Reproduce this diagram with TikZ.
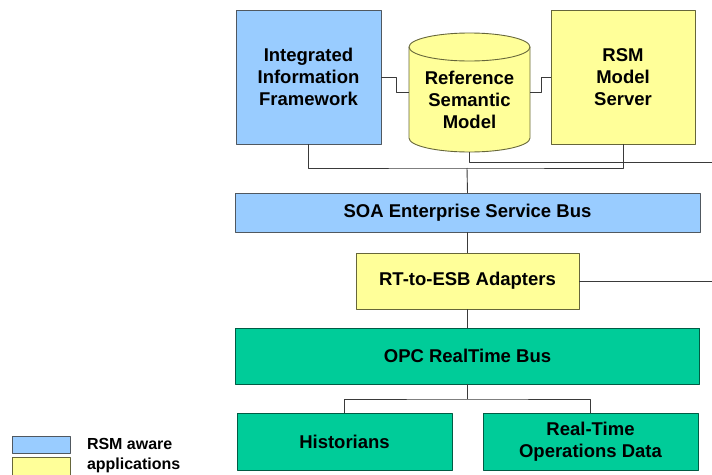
\documentclass[tikz,border=0pt]{standalone}
\usepackage{fontspec}
\setmainfont{Liberation Sans}
\definecolor{awareblue}{HTML}{99CCFF}
\definecolor{appyellow}{HTML}{FFFF99}
\definecolor{busgreen}{HTML}{00CC99}
\definecolor{blueedge}{HTML}{505860}
\definecolor{yellowedge}{HTML}{66663A}
\definecolor{greenedge}{HTML}{005C44}
\definecolor{wire}{HTML}{3A3A3A}
\begin{document}
\begin{tikzpicture}[x=1pt, y=-1pt, line join=round]
			\tikzset{every node/.style={font=\fontsize{18.5}{22}\selectfont\bfseries, align=center, inner sep=0pt, outer sep=0pt, line width=0.9pt}}
			\tikzset{bluebox/.style={draw=blueedge, fill=awareblue}}
			\tikzset{yellowbox/.style={draw=yellowedge, fill=appyellow}}
			\tikzset{greenbox/.style={draw=greenedge, fill=busgreen}}
			\tikzset{wire/.style={draw=wire, line width=0.9pt}}
			\def\rx{60.5pt}\def\ry{14pt}
			\useasboundingbox (0,0) rectangle (712,474);
			\clip (0,0) rectangle (712,474);
			% top row
			\node[bluebox, minimum width=145pt, minimum height=134pt] (iif) at (308.5,77) {Integrated\\Information\\Framework};
			\node[yellowbox, minimum width=144pt, minimum height=134pt] (srv) at (623,77) {RSM\\Model\\Server};
			\node[minimum width=121pt, minimum height=119pt] (rsm) at (469.5,92.5) {};
			\draw[yellowbox, line width=0.9pt] ([yshift=-\ry]rsm.north west) -- ([yshift=\ry]rsm.south west)
				arc[start angle=180, end angle=360, x radius=\rx, y radius=\ry]
				-- ([yshift=-\ry]rsm.north east)
				arc[start angle=0, end angle=180, x radius=\rx, y radius=\ry] -- cycle;
			\draw[draw=yellowedge, line width=0.9pt] ([yshift=-\ry]rsm.north west)
				arc[start angle=180, end angle=360, x radius=\rx, y radius=\ry];
			\node (rsmtxt) at (469.5,100) {Reference\\Semantic\\Model};
			% busses and adapters
			\node[bluebox, minimum width=465pt, minimum height=39pt] (esb) at (467.5,212.5) {SOA Enterprise Service Bus};
			\node[yellowbox, minimum width=223pt, minimum height=56pt] (adp) at (467.5,281) {RT-to-ESB Adapters};
			\node[greenbox, minimum width=464pt, minimum height=56pt] (opc) at (467.5,356) {OPC RealTime Bus};
			\node[greenbox, minimum width=215pt, minimum height=57pt] (hist) at (344.5,441.5) {Historians};
			\node[greenbox, minimum width=215pt, minimum height=57pt] (rtd) at (590.5,441.5) {Real-Time\\Operations Data};
			% legend
			\node[bluebox, minimum width=58pt, minimum height=17pt] (keyblue) at (41,444.5) {};
			\node[yellowbox, minimum width=58pt, minimum height=19pt] (keyyellow) at (41,466.5) {};
			\node[anchor=west, align=left, font=\fontsize{16}{20}\selectfont\bfseries] (keytxt) at (87,456) {RSM aware\\applications};
			% connectors
			\coordinate (top) at (467,168);
			\coordinate (rsmR) at (712,162);
			\coordinate (adpR) at (712,281);
			\draw[wire] (iif.east) -- ++(15,0) |- (rsm.west);
			\draw[wire] (rsm.east) -- ++(11,0) |- (srv.west);
			\draw[wire] (iif.south) |- (top) -| (srv.south);
			\draw[wire] (rsm.south) |- (rsmR);
			\draw[wire] (top) -- (esb.north);
			\draw[wire] (esb.south) -- (adp.north);
			\draw[wire] (adp.east) -- (adpR);
			\draw[wire] (adp.south) -- (opc.north);
			\draw[wire] (opc.south) -- ++(0,15) coordinate (fork);
			\draw[wire] (hist.north) |- (fork) -| (rtd.north);
		\end{tikzpicture}
\end{document}
